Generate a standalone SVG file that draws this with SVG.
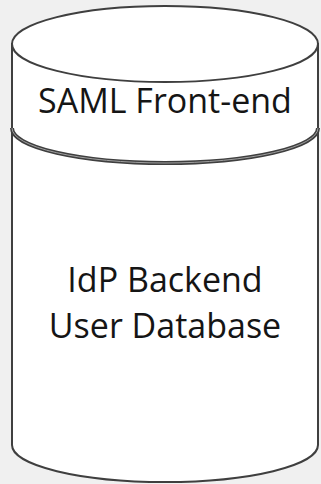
<svg xmlns="http://www.w3.org/2000/svg" width="321" height="484" viewBox="0 0 321 484">
  <style>
    .outline { fill: #ffffff; stroke: #3f3f3f; stroke-width: 2; }
    .band { fill: none; stroke: #3f3f3f; stroke-width: 4; }
    .band-inner { fill: none; stroke: #a0a0a0; stroke-width: 1; }
    .label { font-family: "Open Sans", "Noto Sans", sans-serif; font-size: 34px; fill: #151515; text-anchor: middle; }
  </style>
  <rect x="0" y="0" width="321" height="484" fill="#f0f0f0"/>
  <g id="database">
    <!-- cylinder body with rounded base -->
    <path class="outline" d="M12,44 L12,445 A153,37 0 0 0 318,445 L318,44 Z"/>
    <!-- top cap -->
    <ellipse class="outline" cx="165" cy="44" rx="153" ry="38"/>
    <!-- double line dividing the front-end band -->
    <path class="band" d="M12,128 A153,35 0 0 0 318,128"/>
    <path class="band-inner" d="M12,128 A153,35 0 0 0 318,128"/>
  </g>
  <g id="frontend-label">
    <text class="label" x="165" y="113">SAML Front-end</text>
  </g>
  <g id="backend-label">
    <text class="label" x="165" y="292">IdP Backend</text>
    <text class="label" x="165" y="338">User Database</text>
  </g>
</svg>
